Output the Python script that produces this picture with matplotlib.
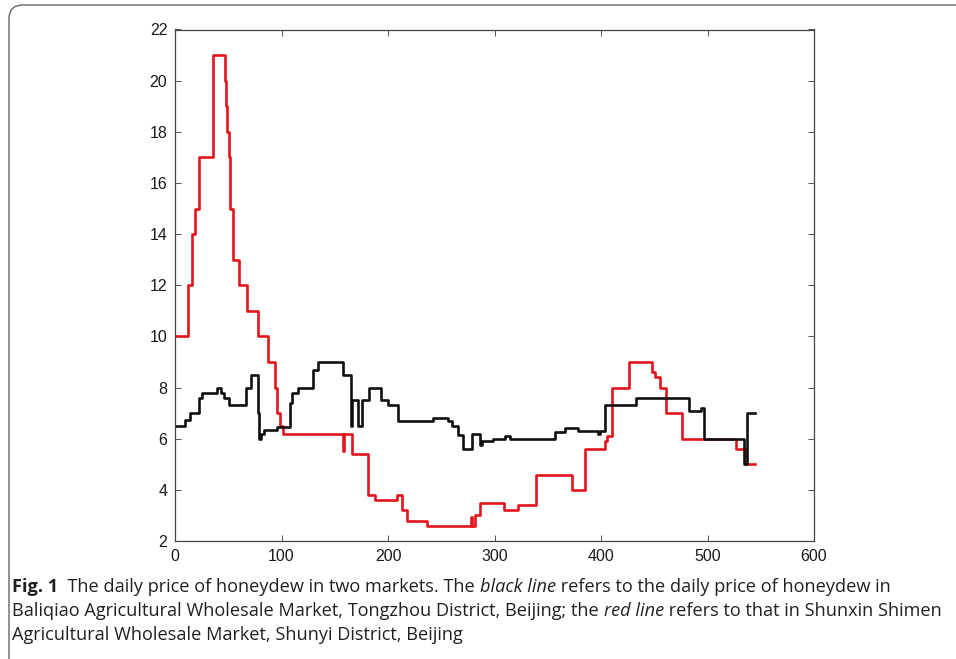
import matplotlib
matplotlib.use("Agg")
import matplotlib.pyplot as plt
from matplotlib.patches import FancyBboxPatch
from matplotlib.transforms import IdentityTransform

# Baliqiao market (black line): day on which the price changes, new price
black_days = [0, 9.5, 14.5, 22.5, 25.5, 39, 43.5, 46, 50.5, 67, 71.5, 78, 79,
              81, 84, 96, 108, 109.5, 115.5, 130, 134.5, 158, 165, 166, 171.5,
              176, 182.5, 193, 200, 209, 242.5, 256, 260, 266, 270, 278.5,
              286.5, 288, 298.5, 310, 314.5, 357, 366, 378, 397.5, 399, 404,
              433, 482.5, 494, 497, 534, 537.5]
black_prices = [6.5, 6.75, 7.0, 7.6, 7.8, 8.0, 7.8, 7.6, 7.3, 8.0, 8.5, 7.0, 6.0,
                6.2, 6.35, 6.45, 7.4, 7.8, 8.0, 8.7, 9.0, 8.5, 6.5, 7.5, 6.5,
                7.5, 8.0, 7.5, 7.3, 6.7, 6.8, 6.7, 6.5, 6.15, 5.6, 6.2,
                5.75, 5.9, 6.0, 6.1, 6.0, 6.25, 6.4, 6.3, 6.2, 6.3, 7.3,
                7.6, 7.1, 7.2, 6.0, 5.0, 7.0]

# Shunxin Shimen market (red line)
red_days = [0, 12.5, 16, 19, 23, 36, 47, 48, 49, 50.5, 52, 54.5, 60.5, 67.5,
            77.5, 87, 94, 95.5, 98.5, 101, 158, 159, 166.5, 181, 188, 208, 213,
            218, 236.5, 277.5, 279, 281.5, 286, 308.5, 322.5, 339, 373, 385,
            404, 405.5, 410, 426, 448, 451, 455, 461, 476, 527, 535]
red_prices = [10, 12, 14, 15, 17, 21, 20, 19, 18, 17, 15, 13, 12, 11,
              10, 9, 8, 7, 6.5, 6.2, 5.5, 6.2, 5.4, 3.8, 3.6, 3.8, 3.2,
              2.8, 2.6, 2.95, 2.6, 3.0, 3.5, 3.2, 3.4, 4.6, 4.0, 5.6,
              5.9, 6.1, 8.0, 9.0, 8.6, 8.4, 8.0, 7.0, 6.0, 5.6, 5.0]
last_day = 545

x_ticks = [0, 100, 200, 300, 400, 500, 600]
y_ticks = [2, 4, 6, 8, 10, 12, 14, 16, 18, 20, 22]

caption_lines = [
    [("Fig. 1", "bold"), ("  The daily price of honeydew in two markets. The ", "normal"),
     ("black line", "italic"), (" refers to the daily price of honeydew in", "normal")],
    [("Baliqiao Agricultural Wholesale Market, Tongzhou District, Beijing; the ", "normal"),
     ("red line", "italic"), (" refers to that in Shunxin Shimen", "normal")],
    [("Agricultural Wholesale Market, Shunyi District, Beijing", "normal")],
]

W, H = 956, 659
fig = plt.figure(figsize=(W / 100, H / 100), dpi=100)
ax = fig.add_axes([175 / W, 1 - 541 / H, (814 - 175) / W, (541 - 29.5) / H])


def extend(days, prices):
    return list(days) + [last_day], list(prices) + [prices[-1]]


bx, by = extend(black_days, black_prices)
rx, ry = extend(red_days, red_prices)
ax.plot(rx, ry, drawstyle="steps-post", color="#e3141b", lw=1.9)
ax.plot(bx, by, drawstyle="steps-post", color="#111111", lw=1.9)

ax.set_xlim(0, 600)
ax.set_ylim(2, 22)
ax.set_xticks(x_ticks)
ax.set_yticks(y_ticks)
ax.tick_params(direction="in", length=4, width=0.7, color="#555555",
               top=True, right=True, labelsize=11.5, pad=5.5)
ax.tick_params(axis="x", pad=6)
for lab in ax.get_xticklabels() + ax.get_yticklabels():
    lab.set_fontfamily("Liberation Sans")
    lab.set_color("#1a1a1a")
for sp in ax.spines.values():
    sp.set_color("#444444")
    sp.set_linewidth(0.9)

# rounded frame around figure and caption
frame = FancyBboxPatch((9, -30), 1000, 654 + 30, boxstyle="round,pad=0,rounding_size=14",
                       transform=IdentityTransform(), fill=False,
                       edgecolor="#666666", lw=1.0, clip_on=False)
fig.add_artist(frame)

renderer = fig.canvas.get_renderer()
cap_font = "Open Sans"
cap_size = 13.1


def text_width(s, weight, style):
    probe = fig.text(0, 0, "|" + s + "|", fontsize=cap_size, family=cap_font,
                     weight=weight, style=style, transform=IdentityTransform())
    bar = fig.text(0, 0, "||", fontsize=cap_size, family=cap_font,
                   weight=weight, style=style, transform=IdentityTransform())
    w = probe.get_window_extent(renderer).width - bar.get_window_extent(renderer).width
    probe.remove()
    bar.remove()
    return w


baselines = [67, 43, 19]
for runs, yb in zip(caption_lines, baselines):
    x = 12
    for s, kind in runs:
        weight = "bold" if kind == "bold" else "normal"
        style = "italic" if kind == "italic" else "normal"
        fig.text(x, yb, s, fontsize=cap_size, family=cap_font, weight=weight,
                 style=style, color="#231f20", va="baseline", ha="left",
                 transform=IdentityTransform())
        x += text_width(s, weight, style)

fig.savefig("out.png", dpi=100)
